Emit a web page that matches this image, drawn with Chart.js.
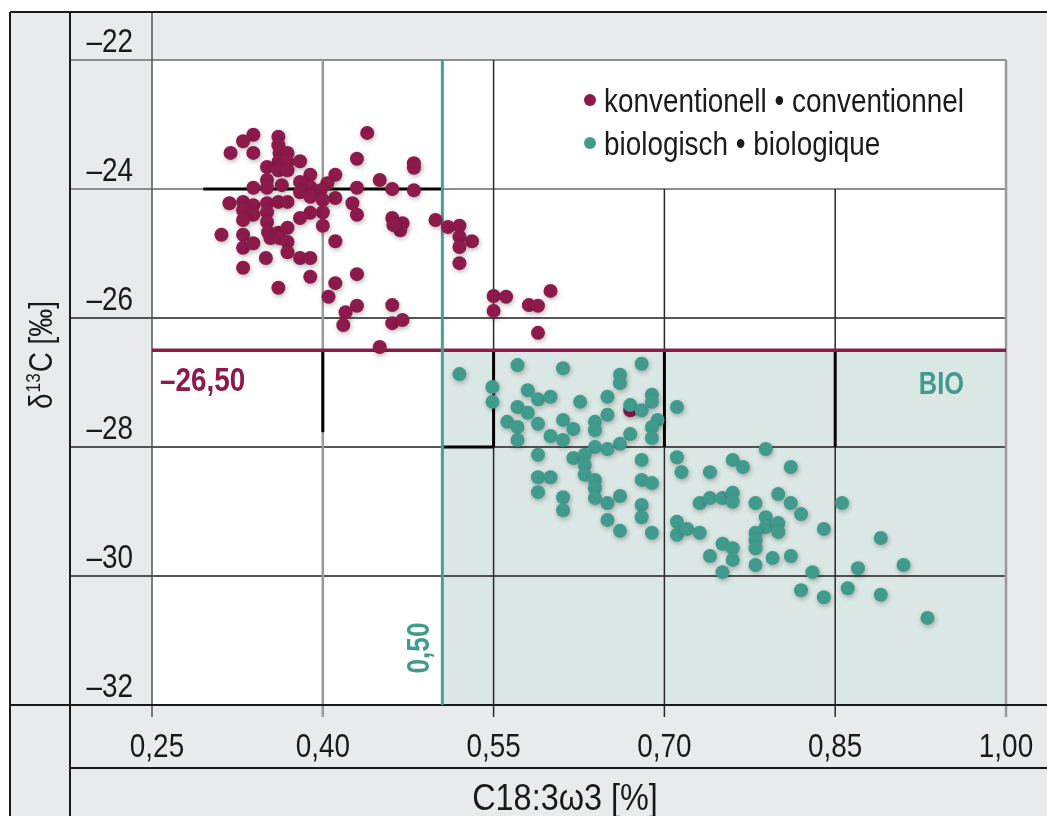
<!DOCTYPE html>
<html>
<head>
<meta charset="utf-8">
<script src="https://cdn.jsdelivr.net/npm/chart.js@4.4.1/dist/chart.umd.min.js"></script>
<style>
  html, body { margin: 0; padding: 0; background: #fff; }
  canvas { display: block; }
</style>
</head>
<body>
<canvas id="c" width="1047" height="816"></canvas>
<script>
// axis ticks
const xTicks = [0.25, 0.40, 0.55, 0.70, 0.85, 1.00];
const xTickLabels = ['0,25', '0,40', '0,55', '0,70', '0,85', '1,00'];
const yTicks = [-22, -24, -26, -28, -30, -32];
const yTickLabels = ['\u201322', '\u201324', '\u201326', '\u201328', '\u201330', '\u201332'];

// thresholds
const limitY = -26.5;
const limitYLabel = '\u201326,50';
const limitX = 0.505;
const limitXLabel = '0,50';

// konventionell • conventionnel
const konvX = [0.339, 0.330, 0.319, 0.339, 0.361, 0.361, 0.362, 0.369, 0.361, 0.369,
  0.351, 0.361, 0.369, 0.380, 0.439, 0.430, 0.389, 0.411, 0.450, 0.351,
  0.380, 0.404, 0.339, 0.351, 0.364, 0.389, 0.430, 0.398, 0.318, 0.330,
  0.339, 0.351, 0.361, 0.369, 0.380, 0.389, 0.411, 0.400, 0.426, 0.330,
  0.339, 0.351, 0.430, 0.400, 0.389, 0.380, 0.330, 0.351, 0.400, 0.311,
  0.330, 0.352, 0.361, 0.369, 0.354, 0.362, 0.369, 0.330, 0.339, 0.411,
  0.369, 0.350, 0.380, 0.389, 0.330, 0.389, 0.430, 0.361, 0.411, 0.405,
  0.430, 0.420, 0.418, 0.450, 0.480, 0.480, 0.461, 0.480, 0.461, 0.470,
  0.468, 0.462, 0.499, 0.510, 0.520, 0.520, 0.531, 0.520, 0.520, 0.550,
  0.561, 0.550, 0.581, 0.589, 0.600, 0.589, 0.461, 0.461, 0.470, 0.670];
const konvY = [-23.16, -23.26, -23.44, -23.44, -23.19, -23.32, -23.44, -23.44, -23.58, -23.58,
  -23.66, -23.71, -23.71, -23.57, -23.13, -23.53, -23.78, -23.78, -23.86, -23.86,
  -23.89, -23.91, -23.98, -23.98, -23.94, -23.97, -23.98, -24.02, -24.22, -24.20,
  -24.25, -24.22, -24.20, -24.20, -24.05, -24.12, -24.14, -24.17, -24.22, -24.33,
  -24.40, -24.36, -24.40, -24.36, -24.37, -24.45, -24.48, -24.51, -24.57, -24.71,
  -24.71, -24.67, -24.68, -24.60, -24.76, -24.76, -24.82, -24.91, -24.84, -24.81,
  -24.98, -25.07, -25.07, -25.07, -25.22, -25.36, -25.32, -25.53, -25.46, -25.67,
  -25.81, -25.91, -26.11, -26.45, -23.60, -23.67, -24.00, -24.02, -24.45, -24.53,
  -24.64, -24.56, -24.48, -24.59, -24.57, -24.74, -24.81, -24.90, -25.15, -25.66,
  -25.67, -25.89, -25.80, -25.81, -25.58, -26.23, -25.80, -26.08, -26.03, -27.43];

// biologisch • biologique
const bioX = [0.520, 0.571, 0.611, 0.680, 0.661, 0.661, 0.549, 0.549, 0.580, 0.589,
  0.600, 0.626, 0.650, 0.689, 0.689, 0.711, 0.670, 0.680, 0.571, 0.580,
  0.650, 0.562, 0.571, 0.589, 0.611, 0.639, 0.620, 0.639, 0.694, 0.689,
  0.670, 0.689, 0.571, 0.600, 0.611, 0.661, 0.639, 0.650, 0.589, 0.620,
  0.630, 0.630, 0.680, 0.630, 0.639, 0.680, 0.689, 0.589, 0.600, 0.639,
  0.589, 0.611, 0.661, 0.639, 0.650, 0.611, 0.680, 0.680, 0.650, 0.661,
  0.689, 0.711, 0.715, 0.740, 0.760, 0.769, 0.789, 0.811, 0.731, 0.740,
  0.751, 0.760, 0.760, 0.780, 0.800, 0.811, 0.820, 0.856, 0.711, 0.711,
  0.720, 0.731, 0.789, 0.789, 0.800, 0.800, 0.780, 0.780, 0.780, 0.840,
  0.751, 0.760, 0.760, 0.740, 0.780, 0.795, 0.811, 0.751, 0.830, 0.820,
  0.840, 0.861, 0.870, 0.890, 0.910, 0.890, 0.931];
const bioY = [-26.87, -26.73, -26.78, -26.71, -26.88, -27.01, -27.07, -27.30, -27.12, -27.26,
  -27.22, -27.30, -27.22, -27.19, -27.30, -27.38, -27.35, -27.43, -27.38, -27.47,
  -27.50, -27.61, -27.69, -27.64, -27.58, -27.61, -27.72, -27.74, -27.58, -27.69,
  -27.80, -27.86, -27.89, -27.83, -27.89, -27.95, -28.00, -28.03, -28.12, -28.17,
  -28.12, -28.28, -28.20, -28.43, -28.51, -28.51, -28.56, -28.47, -28.47, -28.64,
  -28.70, -28.78, -28.76, -28.79, -28.87, -28.98, -28.90, -29.09, -29.13, -29.30,
  -29.33, -28.16, -28.39, -28.39, -28.20, -28.31, -28.03, -28.31, -28.87, -28.79,
  -28.79, -28.71, -28.85, -28.87, -28.73, -28.87, -29.04, -28.87, -29.16, -29.36,
  -29.27, -29.33, -29.09, -29.24, -29.18, -29.32, -29.33, -29.44, -29.57, -29.27,
  -29.50, -29.57, -29.75, -29.69, -29.83, -29.72, -29.69, -29.94, -29.94, -30.22,
  -30.33, -30.19, -29.88, -29.41, -29.83, -30.29, -30.65];

// black box edges [x1, y1, x2, y2]
const boxEdges = [
  [0.295, -24, 0.505, -24],
  [0.40, -26.5, 0.40, -27.77],
  [0.55, -26.5, 0.55, -28],
  [0.505, -28, 0.55, -28],
  [0.70, -26.5, 0.70, -28],
  [0.85, -26.5, 0.85, -28]
];

const MAROON = '#8c1a4b';
const TEAL = '#409b8d';
const INK = '#1a1a1a';
const FONT = "'Liberation Sans', Arial, sans-serif";
const NARROW = 0.82; // condensed look

function line(ctx, x1, y1, x2, y2, color, w) {
  ctx.beginPath();
  ctx.moveTo(x1, y1);
  ctx.lineTo(x2, y2);
  ctx.strokeStyle = color;
  ctx.lineWidth = w;
  ctx.stroke();
}

// text squeezed horizontally, optionally rotated
function txt(ctx, s, x, y, font, color, align, rot, sq) {
  ctx.save();
  ctx.translate(x, y);
  if (rot) ctx.rotate(rot);
  ctx.scale(sq || NARROW, 1);
  ctx.font = font;
  ctx.fillStyle = color;
  ctx.textAlign = align || 'left';
  ctx.textBaseline = 'alphabetic';
  ctx.fillText(s, 0, 0);
  ctx.restore();
}

const frame = {
  id: 'frame',
  beforeDraw(chart) {
    const { ctx, chartArea: a, scales: { x, y } } = chart;
    const W = chart.width, H = chart.height;
    ctx.save();
    ctx.fillStyle = '#fff';
    ctx.fillRect(0, 0, W, H);
    ctx.fillStyle = '#e9eaec';
    ctx.fillRect(10, 12, W - 10, H - 12);
    ctx.fillStyle = '#fff';
    ctx.fillRect(a.left, a.top, a.width, a.height);
    // BIO area
    const bx = x.getPixelForValue(limitX), by = y.getPixelForValue(limitY);
    ctx.fillStyle = '#dbe7e4';
    ctx.fillRect(bx, by, a.right - bx, a.bottom - by);

    // horizontal grid
    yTicks.forEach(v => {
      const py = y.getPixelForValue(v);
      if (v === -32) return;
      const light = v === -22 || v === -24;
      line(ctx, 70, py, a.right, py, light ? '#8d8d8d' : '#1e1e1e', light ? 2 : 1.5);
    });
    // vertical grid
    xTicks.forEach(v => {
      const px = x.getPixelForValue(v);
      let top = a.top;
      if (v === 0.25) top = 12;
      if (v === 0.70 || v === 0.85) top = y.getPixelForValue(-24);
      const light = v === 0.40 || v === 1.00;
      const col = v === 0.25 ? '#555' : (light ? '#9a9a9a' : '#2a2a2a');
      line(ctx, px, top, px, a.bottom + 12, col, light ? 2.5 : 1.5);
    });
    // outer frame
    line(ctx, 10, 12, W, 12, INK, 2);
    line(ctx, 10, 12, 10, H, INK, 2);
    line(ctx, 70, 12, 70, H, INK, 2);
    line(ctx, 10, a.bottom, W, a.bottom, INK, 2);
    line(ctx, 70, 768, W, 768, INK, 2);

    // box edges
    boxEdges.forEach(e => {
      line(ctx, x.getPixelForValue(e[0]), y.getPixelForValue(e[1]),
        x.getPixelForValue(e[2]), y.getPixelForValue(e[3]), '#000', 3);
    });

    // tick labels
    const tf = '34px ' + FONT;
    yTicks.forEach((v, i) => {
      txt(ctx, yTickLabels[i], 133, y.getPixelForValue(v) - 8, tf, INK, 'right');
    });
    xTicks.forEach((v, i) => {
      txt(ctx, xTickLabels[i], x.getPixelForValue(v) + (i === 0 ? 5 : 0), 757, tf, INK, 'center');
    });
    // axis titles
    txt(ctx, 'C18:3\u03c93 [%]', 565, 810, '36px ' + FONT, INK, 'center', 0, 0.9);

    // y title: δ13C [‰] rotated
    const big = '34px ' + FONT, small = '21px ' + FONT;
    ctx.save();
    ctx.font = big;
    const w1 = ctx.measureText('\u03b4').width * NARROW;
    const w3 = ctx.measureText('C [\u2030]').width * NARROW;
    ctx.font = small;
    const w2 = ctx.measureText('13').width * NARROW;
    ctx.restore();
    const total = w1 + w2 + w3 + 2;
    const cx = 52, cy = 355, r = -Math.PI / 2;
    const at = d => [cx, cy - d];
    let d = -total / 2;
    let p = at(d); txt(ctx, '\u03b4', p[0], p[1], big, INK, 'left', r);
    d += w1 + 1;
    p = at(d); txt(ctx, '13', p[0] - 12, p[1], small, INK, 'left', r);
    d += w2 + 1;
    p = at(d); txt(ctx, 'C [\u2030]', p[0], p[1], big, INK, 'left', r);
    ctx.restore();
  },
  beforeDatasetsDraw(chart) {
    const { ctx, chartArea: a, scales: { x, y } } = chart;
    const py = y.getPixelForValue(limitY), px = x.getPixelForValue(limitX);
    line(ctx, a.left, py, a.right, py, MAROON, 3.5);
    line(ctx, px, a.top, px, a.bottom, '#4a9f91', 3);
    ctx.save();
    ctx.shadowColor = 'rgba(0,0,0,0.28)';
    ctx.shadowBlur = 5;
    ctx.shadowOffsetX = 1;
    ctx.shadowOffsetY = 2;
  },
  afterDatasetsDraw(chart) {
    const { ctx, scales: { x } } = chart;
    ctx.restore();
    // threshold labels
    txt(ctx, limitYLabel, 160, 391, 'bold 34px ' + FONT, MAROON, 'left');
    txt(ctx, 'BIO', 964, 394, 'bold 31px ' + FONT, TEAL, 'right');
    txt(ctx, limitXLabel, x.getPixelForValue(limitX) - 13, 648, 'bold 32px ' + FONT, TEAL, 'center', -Math.PI / 2);
    // legend
    const items = [['konventionell \u2022 conventionnel', MAROON], ['biologisch \u2022 biologique', TEAL]];
    items.forEach((it, i) => {
      const ly = 100 + i * 43;
      ctx.save();
      ctx.beginPath();
      ctx.arc(590, ly, 6, 0, Math.PI * 2);
      ctx.fillStyle = it[1];
      ctx.fill();
      ctx.restore();
      txt(ctx, it[0], 604, ly + 12, '34px ' + FONT, INK, 'left');
    });
  }
};

const toPoints = (xs, ys) => xs.map((v, i) => ({ x: v, y: ys[i] }));

new Chart(document.getElementById('c'), {
  type: 'scatter',
  data: {
    datasets: [{
      label: 'konventionell \u2022 conventionnel',
      data: toPoints(konvX, konvY),
      backgroundColor: MAROON,
      borderWidth: 0,
      pointRadius: 7,
      order: 1
    }, {
      label: 'biologisch \u2022 biologique',
      data: toPoints(bioX, bioY),
      backgroundColor: TEAL,
      borderWidth: 0,
      pointRadius: 7,
      order: 0
    }]
  },
  options: {
    responsive: false,
    animation: false,
    layout: { padding: { left: 152, top: 60, right: 41, bottom: 111 } },
    plugins: { legend: { display: false }, tooltip: { enabled: false } },
    scales: {
      x: { type: 'linear', min: 0.25, max: 1.0, display: false },
      y: { type: 'linear', min: -32, max: -22, display: false }
    }
  },
  plugins: [frame]
});
</script>
</body>
</html>
